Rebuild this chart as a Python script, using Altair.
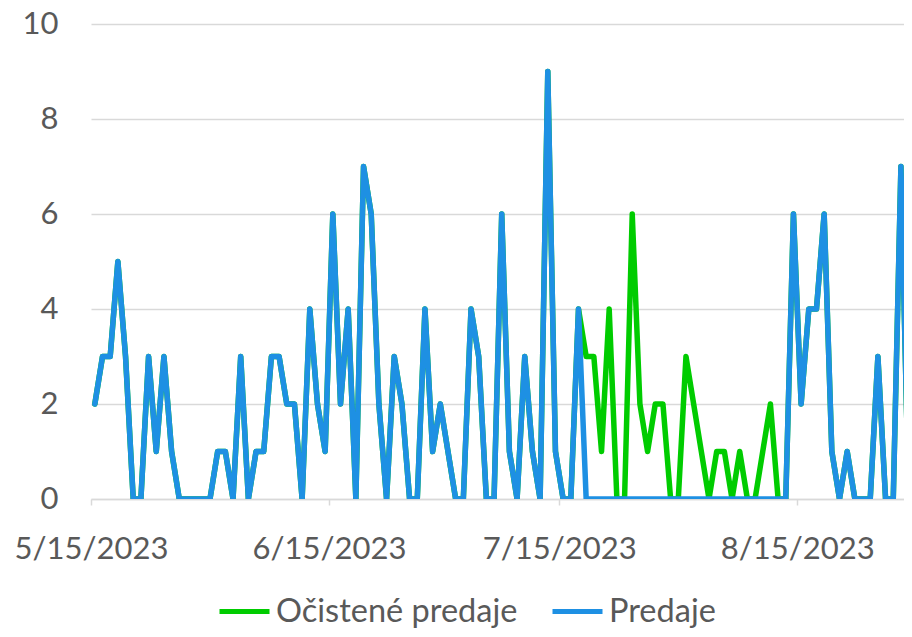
import altair as alt
import pandas as pd

start_date = "2023-05-15"
series_names = ["Očistené predaje", "Predaje"]
series_colors = ["#00CC00", "#1E90E3"]

predaje = [
    2, 3, 3, 5, 3, 0, 0, 3, 1, 3,
    1, 0, 0, 0, 0, 0, 1, 1, 0, 3,
    0, 1, 1, 3, 3, 2, 2, 0, 4, 2,
    1, 6, 2, 4, 0, 7, 6, 2, 0, 3,
    2, 0, 0, 4, 1, 2, 1, 0, 0, 4,
    3, 0, 0, 6, 1, 0, 3, 1, 0, 9,
    1, 0, 0, 4, 0, 0, 0, 0, 0, 0,
    0, 0, 0, 0, 0, 0, 0, 0, 0, 0,
    0, 0, 0, 0, 0, 0, 0, 0, 0, 0,
    0, 6, 2, 4, 4, 6, 1, 0, 1, 0,
    0, 0, 3, 0, 0, 7, 0, 7,
]

ocistene = [
    2, 3, 3, 5, 3, 0, 0, 3, 1, 3,
    1, 0, 0, 0, 0, 0, 1, 1, 0, 3,
    0, 1, 1, 3, 3, 2, 2, 0, 4, 2,
    1, 6, 2, 4, 0, 7, 6, 2, 0, 3,
    2, 0, 0, 4, 1, 2, 1, 0, 0, 4,
    3, 0, 0, 6, 1, 0, 3, 1, 0, 9,
    1, 0, 0, 4, 3, 3, 1, 4, 0, 0,
    6, 2, 1, 2, 2, 0, 0, 3, 2, 1,
    0, 1, 1, 0, 1, 0, 0, 1, 2, 0,
    0, 6, 2, 4, 4, 6, 1, 0, 1, 0,
    0, 0, 3, 0, 0, 7, 0, 7,
]

y_ticks = [0, 2, 4, 6, 8, 10]

dates = pd.date_range(start_date, periods=len(predaje), freq="D")
date_str = [d.strftime("%Y-%m-%dT12:00:00Z") for d in dates]

df = pd.DataFrame(
    {
        "date": date_str * 2,
        "value": ocistene + predaje,
        "series": [series_names[0]] * len(ocistene) + [series_names[1]] * len(predaje),
    }
)

FONT = "Lato"
TXT = "#595959"

x_enc = alt.X(
    "date:T",
    scale=alt.Scale(
        type="utc",
        domain=[
            alt.DateTime(year=2023, month=5, date=15, utc=True),
            alt.DateTime(year=2023, month=8, date=28, hours=21, minutes=36, utc=True),
        ],
    ),
    axis=alt.Axis(
        values=[
            alt.DateTime(year=2023, month=5, date=15, utc=True),
            alt.DateTime(year=2023, month=6, date=15, utc=True),
            alt.DateTime(year=2023, month=7, date=15, utc=True),
            alt.DateTime(year=2023, month=8, date=15, utc=True),
        ],
        format="%-m/%-d/%Y",
        title=None,
        grid=False,
        domainColor="#D9D9D9",
        domainWidth=1.5,
        tickColor="#D9D9D9",
        tickWidth=1.5,
        tickSize=6,
        labelPadding=29,
        labelFont=FONT,
        labelFontSize=31,
        labelColor=TXT,
        labelFlush=False,
    ),
)

y_enc = alt.Y(
    "value:Q",
    scale=alt.Scale(domain=[0, 10], nice=False),
    axis=alt.Axis(
        values=y_ticks,
        title=None,
        domain=False,
        ticks=False,
        grid=True,
        gridColor="#D9D9D9",
        gridWidth=1.5,
        labelPadding=33,
        labelFont=FONT,
        labelFontSize=31,
        labelColor=TXT,
    ),
)

color_enc = alt.Color(
    "series:N",
    scale=alt.Scale(domain=series_names, range=series_colors),
    legend=alt.Legend(
        title=None,
        orient="none",
        direction="horizontal",
        legendX=126,
        legendY=560,
        symbolType="stroke",
        symbolSize=2500,
        symbolStrokeWidth=5,
        labelFont=FONT,
        labelFontSize=32.5,
        labelColor=TXT,
        labelOffset=4,
        labelLimit=0,
        columnPadding=24,
    ),
)

base = alt.Chart(df)

green = (
    base.transform_filter(alt.datum.series == series_names[0])
    .mark_line(strokeWidth=5.5, strokeJoin="round", strokeCap="round", clip=True)
    .encode(x=x_enc, y=y_enc, color=color_enc)
)
blue = (
    base.transform_filter(alt.datum.series == series_names[1])
    .mark_line(strokeWidth=5.5, strokeJoin="round", strokeCap="round", clip=True)
    .encode(x=x_enc, y=y_enc, color=color_enc)
)

chart = (
    alt.layer(green, blue)
    .properties(
        width=813,
        height=475,
        autosize=alt.AutoSizeParams(type="none"),
        padding={"left": 83, "top": 16, "right": 0, "bottom": 130},
        background="white",
    )
    .configure_view(stroke=None)
)

chart.save("out.html", embed_options={"renderer": "svg", "actions": False})
